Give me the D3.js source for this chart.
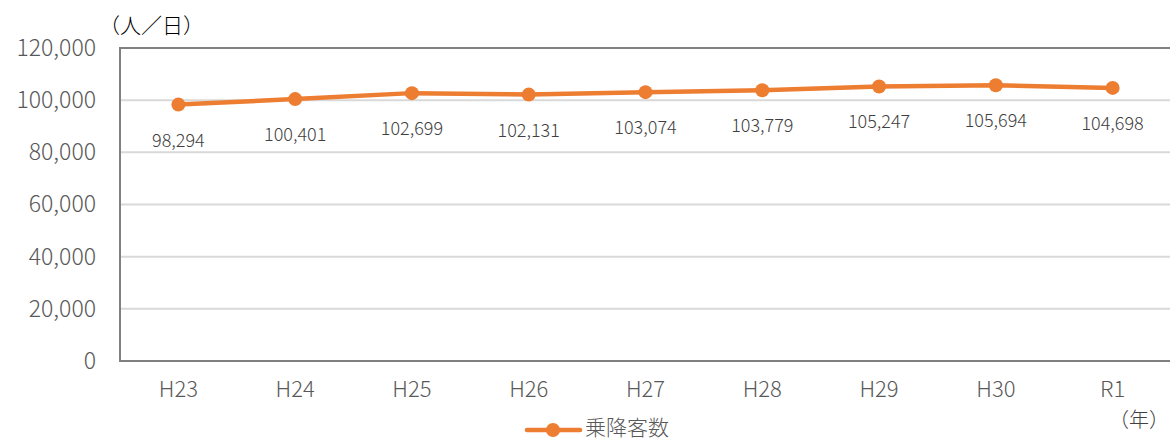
<!DOCTYPE html>
<html>
<head>
<meta charset="utf-8">
<script src="https://cdn.jsdelivr.net/npm/d3@7"></script>
<style>
  html, body { margin: 0; padding: 0; background: #fff; }
  svg { display: block; font-family: "Noto Sans CJK JP", "Noto Sans", sans-serif; font-weight: 300; }
</style>
</head>
<body>
<svg id="chart" width="1170" height="441"></svg>
<script>
// Daily passengers (boarding + alighting) by fiscal year
const years = ["H23", "H24", "H25", "H26", "H27", "H28", "H29", "H30", "R1"];
const passengers = [98294, 100401, 102699, 102131, 103074, 103779, 105247, 105694, 104698];
const yTicks = [0, 20000, 40000, 60000, 80000, 100000, 120000];
const seriesName = "乗降客数";

const svg = d3.select("#chart");
const margin = { left: 120, top: 48, right: -1 };
const W = 1170;
const plotBottom = 361;

const x = d3.scaleBand().domain(years).range([margin.left, W - margin.right]);
const y = d3.scaleLinear().domain([0, 120000]).range([plotBottom, margin.top]);

const orange = "#ED7D31";
const fmt = d3.format(",");

// gridlines
svg.append("g")
  .selectAll("line")
  .data(yTicks.filter(d => d > 0 && d < 120000))
  .join("line")
  .attr("x1", margin.left).attr("x2", W)
  .attr("y1", d => y(d)).attr("y2", d => y(d))
  .attr("stroke", "#d9d9d9").attr("stroke-width", 2);

// frame: top, left and bottom in gray
svg.append("line").attr("x1", margin.left).attr("x2", W).attr("y1", y(120000)).attr("y2", y(120000))
  .attr("stroke", "#808080").attr("stroke-width", 2);
svg.append("line").attr("x1", margin.left).attr("x2", margin.left).attr("y1", y(120000) - 1).attr("y2", plotBottom + 1)
  .attr("stroke", "#808080").attr("stroke-width", 2);
svg.append("line").attr("x1", margin.left).attr("x2", W).attr("y1", plotBottom).attr("y2", plotBottom)
  .attr("stroke", "#808080").attr("stroke-width", 2);

// y axis labels
const yAxis = d3.axisLeft(y).tickValues(yTicks).tickFormat(fmt).tickSize(0).tickPadding(24);
const gy = svg.append("g").attr("transform", `translate(${margin.left},0)`).call(yAxis);
gy.select(".domain").remove();
gy.selectAll("text").attr("fill", "#595959").style("font-size", "23px")
  .style("font-family", "'Noto Sans CJK JP', sans-serif").style("font-weight", 300);

// x axis labels
const xAxis = d3.axisBottom(x).tickSize(0).tickPadding(20);
const gx = svg.append("g").attr("transform", `translate(0,${plotBottom})`).call(xAxis);
gx.select(".domain").remove();
gx.selectAll("text").attr("fill", "#595959").style("font-size", "22px")
  .style("font-family", "'Noto Sans CJK JP', sans-serif").style("font-weight", 300);

// line
const cx = d => x(d) + x.bandwidth() / 2;
const line = d3.line().x((d, i) => cx(years[i])).y(d => y(d));
svg.append("path").datum(passengers)
  .attr("d", line).attr("fill", "none")
  .attr("stroke", orange).attr("stroke-width", 4.5).attr("stroke-linejoin", "round");

svg.append("g").selectAll("circle").data(passengers).join("circle")
  .attr("cx", (d, i) => cx(years[i])).attr("cy", d => y(d)).attr("r", 7)
  .attr("fill", orange);

// value labels beneath points
svg.append("g").selectAll("text").data(passengers).join("text")
  .attr("x", (d, i) => cx(years[i])).attr("y", d => y(d) + 42)
  .attr("text-anchor", "middle").attr("fill", "#404040")
  .style("font-size", "18px")
  .text(d => fmt(d));

// unit labels
svg.append("text").attr("x", 99).attr("y", 33).attr("fill", "#000").style("font-size", "21px").text("（人／日）");
svg.append("text").attr("x", 1109).attr("y", 427).attr("fill", "#404040").style("font-size", "20px").text("（年）");

// legend
const lg = svg.append("g");
lg.append("line").attr("x1", 527).attr("x2", 580).attr("y1", 430).attr("y2", 430)
  .attr("stroke", orange).attr("stroke-width", 4.5).attr("stroke-linecap", "round");
lg.append("circle").attr("cx", 553).attr("cy", 430).attr("r", 7).attr("fill", orange);
lg.append("text").attr("x", 585).attr("y", 435).attr("fill", "#595959").style("font-size", "21px").text(seriesName);
</script>
</body>
</html>
